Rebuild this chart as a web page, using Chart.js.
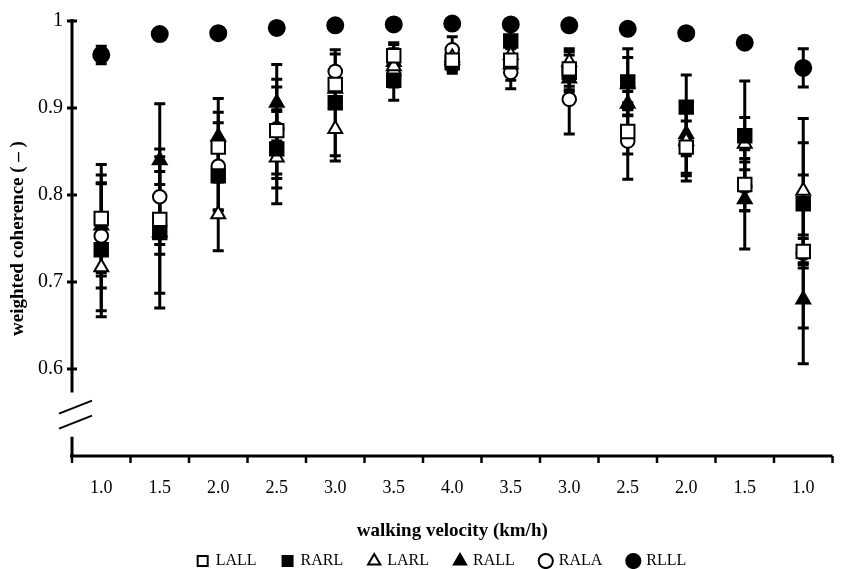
<!DOCTYPE html>
<html>
<head>
<meta charset="utf-8">
<script src="https://cdn.jsdelivr.net/npm/chart.js@4/dist/chart.umd.min.js"></script>
<style>
  html, body { margin: 0; padding: 0; background: #fff; }
  #wrap { width: 844px; height: 569px; }
</style>
</head>
<body>
<div id="wrap"><canvas id="c" width="844" height="569"></canvas></div>
<script>
// ---- data ----
const categories = ['1.0','1.5','2.0','2.5','3.0','3.5','4.0','3.5','3.0','2.5','2.0','1.5','1.0'];
const yTicks = [0.6, 0.7, 0.8, 0.9, 1.0];

const LALL = [0.773, 0.772, 0.855, 0.874, 0.927, 0.960, 0.955, 0.955, 0.945, 0.873, 0.855, 0.812, 0.735];
const RARL = [0.737, 0.757, 0.822, 0.853, 0.906, 0.932, 0.952, 0.977, 0.941, 0.930, 0.901, 0.868, 0.790];
const LARL = [0.717, 0.757, 0.778, 0.843, 0.876, 0.948, 0.958, 0.961, 0.953, 0.928, 0.862, 0.859, 0.805];
const RALL = [0.765, 0.840, 0.867, 0.906, 0.922, 0.953, 0.955, 0.950, 0.934, 0.905, 0.870, 0.795, 0.680];
const RALA = [0.753, 0.798, 0.833, 0.876, 0.942, 0.938, 0.967, 0.941, 0.910, 0.862, 0.857, 0.810, 0.733];
const RLLL = [0.961, 0.985, 0.986, 0.992, 0.995, 0.996, 0.997, 0.996, 0.995, 0.991, 0.986, 0.975, 0.946];

const LALL_err = [0.062, 0.040, 0.040, 0.050, 0.020, 0.015, 0.012, 0.015, 0.020, 0.026, 0.030, 0.030, 0.088];
const RARL_err = [0.077, 0.087, 0.040, 0.045, 0.061, 0.023, 0.012, 0.020, 0.020, 0.038, 0.037, 0.063, 0.070];
const LARL_err = [0.050, 0.070, 0.042, 0.053, 0.037, 0.020, 0.012, 0.015, 0.015, 0.030, 0.040, 0.030, 0.083];
const RALL_err = [0.058, 0.065, 0.044, 0.044, 0.020, 0.020, 0.012, 0.018, 0.015, 0.014, 0.025, 0.057, 0.074];
const RALA_err = [0.060, 0.055, 0.050, 0.057, 0.020, 0.014, 0.015, 0.019, 0.040, 0.044, 0.041, 0.028, 0.017];
const RLLL_err = [0.010, 0, 0, 0, 0, 0, 0, 0, 0, 0, 0, 0, 0.022];

// axis break (value range hidden on the y axis)
const breakFrom = 0.573, breakTo = 0.522;

const SERIF = "'Liberation Serif', 'Times New Roman', Times, serif";

function ds(label, data, errors, style, filled, radius) {
  return {
    label, data, errors,
    showLine: false,
    pointStyle: style,
    pointRadius: radius,
    pointHoverRadius: radius,
    pointBackgroundColor: filled ? '#000' : '#fff',
    pointBorderColor: '#000',
    pointBorderWidth: 2,
    backgroundColor: filled ? '#000' : '#fff',
    borderColor: '#000',
    borderWidth: 2,
    clip: false
  };
}

const errorBars = {
  id: 'errorBars',
  beforeDatasetsDraw(chart) {
    const ctx = chart.ctx, ys = chart.scales.y;
    ctx.save();
    ctx.strokeStyle = '#000';
    ctx.lineWidth = 3;
    chart.data.datasets.forEach((d, i) => {
      const meta = chart.getDatasetMeta(i);
      d.errors.forEach((e, j) => {
        if (!e) return;
        const p = meta.data[j];
        const v = d.data[j];
        const yt = ys.getPixelForValue(v + e), yb = ys.getPixelForValue(v - e);
        ctx.beginPath();
        ctx.moveTo(p.x, yt); ctx.lineTo(p.x, yb);
        ctx.moveTo(p.x - 5.5, yt); ctx.lineTo(p.x + 5.5, yt);
        ctx.moveTo(p.x - 5.5, yb); ctx.lineTo(p.x + 5.5, yb);
        ctx.stroke();
      });
    });
    ctx.restore();
  }
};

const axesDeco = {
  id: 'axesDeco',
  afterLayout(chart) {
    // centre the legend row a little right of the canvas centre, as in the original
    if (chart.legend) chart.legend.left += 40;
  },
  beforeDatasetsDraw(chart) {
    const ctx = chart.ctx, xs = chart.scales.x, ys = chart.scales.y;
    const a = chart.chartArea;
    const x0 = a.left, yb = a.bottom;
    ctx.save();
    ctx.strokeStyle = '#000';
    ctx.lineCap = 'butt';
    // y axis (broken)
    ctx.lineWidth = 3;
    ctx.beginPath();
    ctx.moveTo(x0, ys.getPixelForValue(1.0) - 2);
    ctx.lineTo(x0, ys.getPixelForValue(breakFrom));
    ctx.moveTo(x0, ys.getPixelForValue(breakTo));
    ctx.lineTo(x0, yb);
    ctx.stroke();
    // y ticks crossing the axis
    yTicks.forEach(v => {
      const y = ys.getPixelForValue(v);
      ctx.beginPath();
      ctx.moveTo(x0 - 5, y); ctx.lineTo(x0 + 5, y);
      ctx.stroke();
    });
    // break marks
    ctx.lineWidth = 2;
    const ym = (ys.getPixelForValue(breakFrom) + ys.getPixelForValue(breakTo)) / 2;
    ctx.beginPath();
    ctx.moveTo(x0 - 13, ym - 1); ctx.lineTo(x0 + 20, ym - 14);
    ctx.moveTo(x0 - 13, ym + 14); ctx.lineTo(x0 + 20, ym + 1);
    ctx.stroke();
    // x axis
    ctx.lineWidth = 3;
    ctx.beginPath();
    ctx.moveTo(x0 - 2, yb); ctx.lineTo(a.right, yb);
    ctx.stroke();
    ctx.lineWidth = 2.5;
    for (let i = 0; i <= categories.length; i++) {
      const x = xs.getPixelForValue(i - 0.5);
      ctx.beginPath();
      ctx.moveTo(x, yb); ctx.lineTo(x, yb + 7);
      ctx.stroke();
    }
    ctx.restore();
  }
};

new Chart(document.getElementById('c'), {
  type: 'line',
  data: {
    labels: categories,
    datasets: [
      ds('LALL', LALL, LALL_err, 'rect', false, 9.5),
      ds('RARL', RARL, RARL_err, 'rect', true, 9.5),
      ds('LARL', LARL, LARL_err, 'triangle', false, 8),
      ds('RALL', RALL, RALL_err, 'triangle', true, 8),
      ds('RALA', RALA, RALA_err, 'circle', false, 6.8),
      ds('RLLL', RLLL, RLLL_err, 'circle', true, 8)
    ]
  },
  options: {
    responsive: false,
    animation: false,
    events: [],
    layout: { padding: { top: 21, right: 0, bottom: -10, left: 0 } },
    plugins: {
      tooltip: { enabled: false },
      legend: {
        position: 'bottom',
        labels: {
          usePointStyle: true,
          boxWidth: 10,
          boxHeight: 10,
          padding: 26,
          color: '#000',
          font: { family: SERIF, size: 16 }
        }
      }
    },
    scales: {
      x: {
        type: 'category',
        offset: true,
        grid: { display: false, drawTicks: false },
        border: { display: false },
        ticks: { color: '#000', padding: 21, font: { family: SERIF, size: 18 }, maxRotation: 0, autoSkip: false },
        title: {
          display: true,
          text: 'walking velocity (km/h)',
          color: '#000',
          font: { family: SERIF, size: 19, weight: 'bold' },
          padding: { top: 0, bottom: -15 }
        },
        afterFit(s) { s.height = 71; }
      },
      y: {
        type: 'linear',
        min: 0.5,
        max: 1.0,
        grid: { display: false, drawTicks: false },
        border: { display: false },
        afterBuildTicks(s) { s.ticks = [0.5].concat(yTicks).map(v => ({ value: v })); },
        ticks: {
          color: '#000',
          padding: 9,
          font: { family: SERIF, size: 20 },
          callback: v => v === 0.5 ? '' : (v === 1 ? '1' : v.toFixed(1))
        },
        title: {
          display: true,
          text: 'weighted coherence ( – )',
          color: '#000',
          font: { family: SERIF, size: 19, weight: 'bold' },
          padding: { top: 7, bottom: 0 }
        },
        afterFit(s) { s.width = 72; }
      }
    }
  },
  plugins: [axesDeco, errorBars]
});
</script>
</body>
</html>
